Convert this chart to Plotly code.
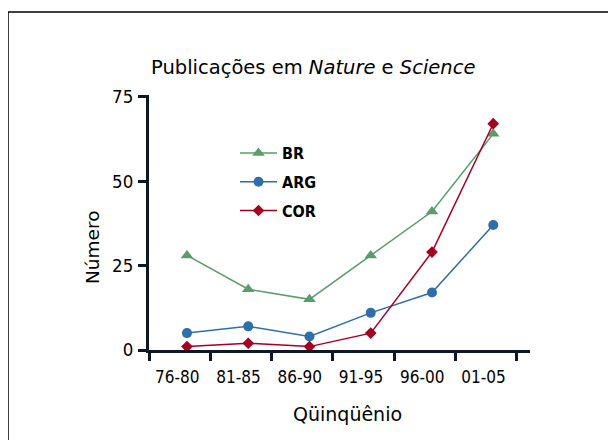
import plotly.graph_objects as go

categories = ["76-80", "81-85", "86-90", "91-95", "96-00", "01-05"]
br = [28, 18, 15, 28, 41, 64]
arg = [5, 7, 4, 11, 17, 37]
cor = [1, 2, 1, 5, 29, 67]
y_ticks = [0, 25, 50, 75]

COND = "DejaVu Sans Condensed, DejaVu Sans, sans-serif"
SANS = "DejaVu Sans, sans-serif"
AX = "#0d1726"
OFF = 8  # page body margin
W, H = 616, 440
# target screen positions of the plot area
SX0, SX1, SY0, SY1 = 149, 530, 95, 350
L = SX0 - OFF
T = SY0 - OFF
R = W - (SX1 - OFF)
B = H - (SY1 - OFF)
pw, ph = W - L - R, H - T - B

def px(x):
    return (x - OFF - L) / pw

def py(y):
    return (H - B - (y - OFF)) / ph

idx = list(range(len(categories)))
xpos = [i + 0.62 for i in idx]
lblpos = [i + 0.46 for i in idx]

fig = go.Figure()
series = [
    ("BR", br, "#5b9b6c", "triangle-up", 11),
    ("ARG", arg, "#2f6dab", "circle", 10),
    ("COR", cor, "#a5001f", "diamond", 9),
]
for name, vals, col, sym, sz in series:
    fig.add_trace(go.Scatter(
        x=xpos, y=vals, name=name, mode="lines+markers",
        line=dict(color=col, width=1.5),
        marker=dict(symbol=sym, size=sz, color=col),
        legendgroup=name,
    ))

fig.update_layout(
    width=W, height=H,
    margin=dict(l=L, r=R, t=T, b=B),
    paper_bgcolor="white", plot_bgcolor="white",
    font=dict(family=COND, color="black", size=17),
    showlegend=True,
    legend=dict(
        x=px(235), y=py(136), xanchor="left", yanchor="top",
        bgcolor="rgba(0,0,0,0)", font=dict(size=16, weight="bold", family=COND),
        tracegroupgap=5, itemwidth=37,
    ),
    xaxis=dict(
        range=[0, 6.22], showgrid=False, zeroline=False,
        showline=True, linecolor=AX, linewidth=3,
        tickmode="array", tickvals=lblpos, ticktext=categories, ticks="",
        ticklabelstandoff=10, tickfont=dict(size=17),
        minor=dict(tickmode="array", tickvals=[0, 1, 2, 3, 4, 5, 6], ticks="outside",
                   ticklen=8, tickwidth=3, tickcolor=AX),
    ),
    yaxis=dict(
        range=[0, 75.5], showgrid=False, zeroline=False,
        showline=True, linecolor=AX, linewidth=3,
        tickmode="array", tickvals=y_ticks, ticks="outside",
        ticklen=8, tickwidth=3, tickcolor=AX,
        tickfont=dict(size=18.5), ticklabelstandoff=1,
    ),
    annotations=[
        dict(text="Publicações em <i>Nature</i> e <i>Science</i>", xref="paper", yref="paper",
             x=px(313), y=py(68), xanchor="center", yanchor="middle",
             showarrow=False, font=dict(size=19.5, family=SANS)),
        dict(text="Número", xref="paper", yref="paper", textangle=-90,
             x=px(92), y=py(247), xanchor="center", yanchor="middle",
             showarrow=False, font=dict(size=18.5, family=SANS)),
        dict(text="Qüinqüênio", xref="paper", yref="paper",
             x=px(347), y=py(414), xanchor="center", yanchor="middle",
             showarrow=False, font=dict(size=19, family=SANS)),
    ],
    shapes=[
        dict(type="rect", xref="paper", yref="paper",
             x0=px(8), x1=px(640), y0=py(470), y1=py(12),
             line=dict(color="black", width=1.5), fillcolor="rgba(0,0,0,0)"),
    ],
)

fig.write_html("out.html")
